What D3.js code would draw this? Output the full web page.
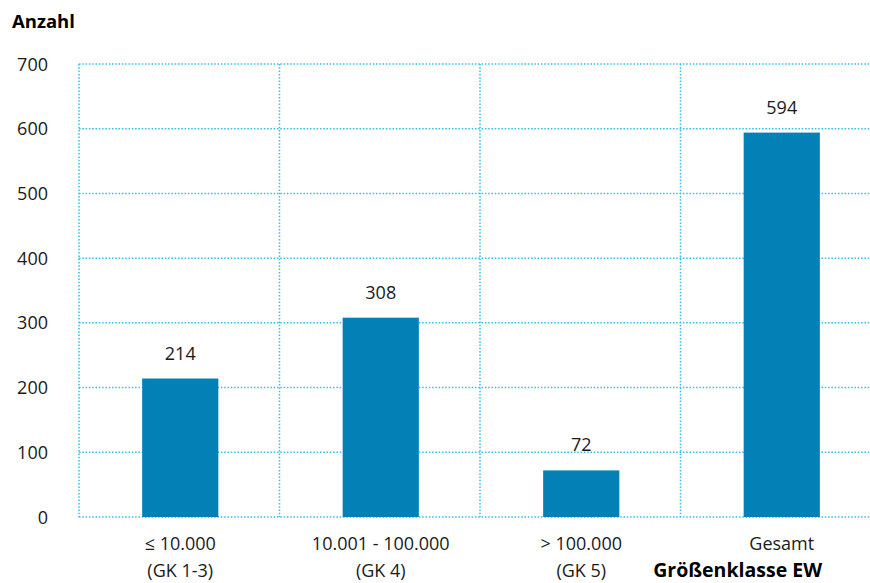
<!DOCTYPE html>
<html><head><meta charset="utf-8">
<script src="https://cdn.jsdelivr.net/npm/d3@7"></script>
<style>body{margin:0;background:#fff}svg{display:block;font-family:"Open Sans",sans-serif}</style>
</head><body><svg id="c" width="870" height="583"></svg>
<script>
const categories = ["≤ 10.000|(GK 1-3)", "10.001 - 100.000|(GK 4)", "> 100.000|(GK 5)", "Gesamt|"];
const values = [214, 308, 72, 594];
const yTicks = [0, 100, 200, 300, 400, 500, 600, 700];
const yTitle = "Anzahl";
const xTitle = "Größenklasse EW";

(function(){
const svg = d3.select("#c");
const mL = 80, mR = 882, mT = 64, mB = 517;
const x = d3.scaleBand().domain(categories).range([mL, mR]).paddingInner(0).paddingOuter(0);
const y = d3.scaleLinear().domain([0, 700]).range([mB, mT]);
const grid = "#33bdeb";
const barW = x.bandwidth() * 0.38;
const fs = 18;

const g = svg.append("g");
g.selectAll("line.h").data(yTicks).join("line")
  .attr("x1", mL - 1).attr("x2", 870).attr("y1", d => y(d)).attr("y2", d => y(d))
  .attr("stroke", grid).attr("stroke-width", 1.5).attr("stroke-dasharray", "1.5,1.8");
const vx = categories.map(c => x(c)).concat([mR]);
g.selectAll("line.v").data(vx).join("line")
  .attr("x1", d => d - 1).attr("x2", d => d - 1).attr("y1", mT).attr("y2", mB)
  .attr("stroke", grid).attr("stroke-width", 1.5).attr("stroke-dasharray", "1.5,1.8");

svg.selectAll("rect.bar").data(values).join("rect")
  .attr("x", (d, i) => x(categories[i]) + x.bandwidth() / 2 - barW / 2)
  .attr("width", barW)
  .attr("y", d => y(d)).attr("height", d => y(0) - y(d))
  .attr("fill", "#0380b5");

svg.selectAll("text.val").data(values).join("text")
  .attr("x", (d, i) => x(categories[i]) + x.bandwidth() / 2)
  .attr("y", d => y(d) - 19)
  .attr("text-anchor", "middle").attr("font-size", fs).attr("fill", "#1a1a1a")
  .text(d => d);

svg.selectAll("text.yt").data(yTicks).join("text")
  .attr("x", 48).attr("y", d => y(d) + 6.5)
  .attr("text-anchor", "end").attr("font-size", fs).attr("fill", "#1a1a1a")
  .text(d => d);

categories.forEach(c => {
  const [a, b] = c.split("|");
  const cx = x(c) + x.bandwidth() / 2;
  svg.append("text").attr("x", cx).attr("y", 550).attr("text-anchor", "middle")
    .attr("font-size", fs).attr("fill", "#1a1a1a").text(a);
  if (b) svg.append("text").attr("x", cx).attr("y", 577).attr("text-anchor", "middle")
    .attr("font-size", fs).attr("fill", "#1a1a1a").text(b);
});

svg.append("text").attr("x", 12).attr("y", 28).attr("font-size", 18.5).attr("font-weight", "bold").attr("fill", "#000").text(yTitle);
svg.append("text").attr("x", 822).attr("y", 577).attr("text-anchor", "end").attr("font-size", 19.5).attr("font-weight", "bold").attr("fill", "#000").text(xTitle);
})();
</script></body></html>
